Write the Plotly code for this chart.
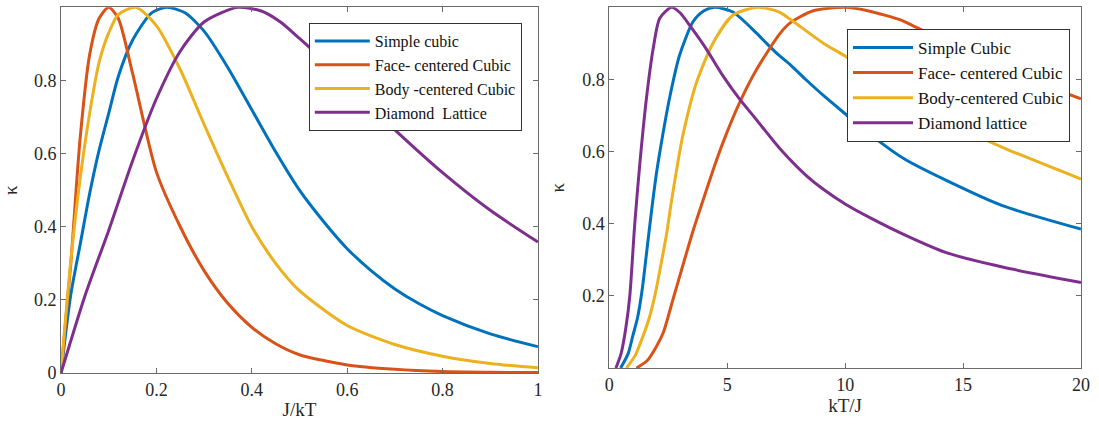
import plotly.graph_objects as go

# ---------------- Left panel data (J/kT) ----------------
sc_left_x = [0, 0.02, 0.04, 0.06, 0.08, 0.1, 0.12, 0.15, 0.19, 0.222, 0.26, 0.3, 0.35, 0.4, 0.45, 0.5, 0.55, 0.6, 0.65, 0.7, 0.75, 0.8, 0.9, 1.0]
sc_left_y = [0, 0.21, 0.35, 0.49, 0.61, 0.71, 0.81, 0.91, 0.985, 1.0, 0.985, 0.935, 0.835, 0.72, 0.605, 0.50, 0.415, 0.34, 0.28, 0.23, 0.19, 0.157, 0.107, 0.072]

fcc_left_x = [0, 0.02, 0.04, 0.06, 0.08, 0.1, 0.12, 0.15, 0.2, 0.25, 0.3, 0.35, 0.4, 0.45, 0.5, 0.6, 0.7, 0.8, 0.9, 1.0]
fcc_left_y = [0, 0.29, 0.64, 0.87, 0.97, 1.0, 0.97, 0.82, 0.55, 0.40, 0.28, 0.19, 0.125, 0.08, 0.05, 0.022, 0.01, 0.004, 0.002, 0.001]

bcc_left_x = [0, 0.02, 0.04, 0.06, 0.08, 0.1, 0.12, 0.157, 0.2, 0.25, 0.3, 0.35, 0.4, 0.45, 0.5, 0.6, 0.7, 0.8, 0.9, 1.0]
bcc_left_y = [0, 0.3, 0.53, 0.71, 0.85, 0.93, 0.98, 1.0, 0.95, 0.83, 0.68, 0.535, 0.40, 0.30, 0.225, 0.13, 0.078, 0.046, 0.026, 0.014]

dia_left_x = [0, 0.05, 0.1, 0.15, 0.2, 0.25, 0.3, 0.37, 0.42, 0.46, 0.5, 0.55, 0.6, 0.7, 0.8, 0.9, 1.0]
dia_left_y = [0, 0.21, 0.39, 0.58, 0.75, 0.88, 0.96, 1.0, 0.99, 0.96, 0.915, 0.855, 0.79, 0.665, 0.548, 0.445, 0.358]

# ---------------- Right panel data (kT/J) ----------------
sc_right_x = [0.48, 0.8, 1.0, 1.2, 1.4, 1.6, 1.8, 2.0, 2.25, 2.56, 2.98, 3.55, 4.0, 4.47, 5.24, 6.22, 6.67, 7.14, 7.69, 8.33, 9.09, 10, 11.11, 12.5, 14.29, 16.67, 20]
sc_right_y = [0, 0.04, 0.09, 0.14, 0.22, 0.33, 0.44, 0.54, 0.64, 0.75, 0.867, 0.96, 0.99, 1.0, 0.987, 0.93, 0.9, 0.87, 0.84, 0.8, 0.755, 0.705, 0.645, 0.58, 0.52, 0.45, 0.385]

fcc_right_x = [1.15, 1.6, 2.0, 2.3, 2.7, 3.1, 3.55, 4.0, 4.46, 4.82, 5.52, 6.22, 7.21, 7.63, 8.62, 10, 11.0, 12.4, 13.0, 14.29, 16.67, 20]
fcc_right_y = [0, 0.02, 0.06, 0.1, 0.19, 0.28, 0.38, 0.47, 0.56, 0.625, 0.735, 0.825, 0.925, 0.955, 0.99, 1.0, 0.99, 0.964, 0.945, 0.905, 0.83, 0.746]

bcc_right_x = [0.73, 1.1, 1.44, 1.7, 1.93, 2.2, 2.45, 2.63, 2.92, 3.12, 3.69, 4.39, 5.24, 6.3, 7.21, 7.92, 9.09, 10, 11.11, 12.5, 14.29, 16.67, 20]
bcc_right_y = [0, 0.035, 0.09, 0.14, 0.2, 0.29, 0.38, 0.46, 0.575, 0.645, 0.79, 0.90, 0.978, 1.0, 0.987, 0.955, 0.9, 0.865, 0.815, 0.76, 0.685, 0.612, 0.524]

dia_right_x = [0.28, 0.5, 0.7, 0.87, 1.08, 1.3, 1.58, 1.86, 2.14, 2.64, 3.0, 3.41, 4.11, 4.82, 5.52, 6.22, 7.21, 8.33, 9.09, 10, 11.11, 12.5, 14.29, 16.67, 20]
dia_right_y = [0, 0.04, 0.11, 0.2, 0.4, 0.57, 0.75, 0.885, 0.97, 1.0, 0.985, 0.95, 0.885, 0.81, 0.746, 0.69, 0.61, 0.535, 0.495, 0.455, 0.415, 0.37, 0.32, 0.28, 0.237]

left_names = ["Simple cubic", "Face- centered Cubic", "Body -centered Cubic", "Diamond  Lattice"]
right_names = ["Simple Cubic", "Face- centered Cubic", "Body-centered Cubic", "Diamond lattice"]
colors = ["#0072BD", "#D95319", "#EDB120", "#7E2F8E"]

left_ticks = [0, 0.2, 0.4, 0.6, 0.8, 1]
left_tick_text = ["0", "0.2", "0.4", "0.6", "0.8", "1"]
right_xticks = [0, 5, 10, 15, 20]
right_yticks = [0.2, 0.4, 0.6, 0.8, 1]
right_ytick_text = ["0.2", "0.4", "0.6", "0.8", "1"]

FONT = "Times New Roman, Liberation Serif, serif"
AX = "#6a6a6a"

fig = go.Figure()

left_series = [(sc_left_x, sc_left_y), (fcc_left_x, fcc_left_y), (bcc_left_x, bcc_left_y), (dia_left_x, dia_left_y)]
right_series = [(sc_right_x, sc_right_y), (fcc_right_x, fcc_right_y), (bcc_right_x, bcc_right_y), (dia_right_x, dia_right_y)]

for (x, y), name, c in zip(left_series, left_names, colors):
    fig.add_trace(go.Scatter(x=x, y=y, mode="lines", name=name, xaxis="x", yaxis="y",
                             line=dict(color=c, width=3, shape="spline", smoothing=0.7),
                             legend="legend"))
for (x, y), name, c in zip(right_series, right_names, colors):
    fig.add_trace(go.Scatter(x=x, y=y, mode="lines", name=name, xaxis="x2", yaxis="y2",
                             line=dict(color=c, width=3, shape="spline", smoothing=0.7),
                             legend="legend2"))

axis_common = dict(showline=True, linecolor=AX, linewidth=1, mirror="ticks", ticks="inside",
                   ticklen=5, tickcolor=AX, showgrid=False, zeroline=False,
                   tickfont=dict(family=FONT, size=18, color="#262626"), automargin=False)

title_font = dict(family=FONT, size=19, color="#262626")

fig.update_layout(
    width=1099, height=432,
    margin=dict(l=0, r=0, t=0, b=0),
    paper_bgcolor="white", plot_bgcolor="white",
    font=dict(family=FONT, color="#262626"),
    showlegend=True,
    xaxis=dict(domain=[0.0555, 0.4895], range=[0, 1], tickvals=left_ticks, ticktext=left_tick_text,
               title=dict(text="J/kT", font=title_font, standoff=4), anchor="y", **axis_common),
    yaxis=dict(domain=[0.1366, 0.983], range=[0, 1], tickvals=left_ticks, ticktext=left_tick_text,
               title=dict(text="κ", font=title_font, standoff=12), anchor="x", **axis_common),
    xaxis2=dict(domain=[0.5544, 0.9836], range=[0, 20], tickvals=right_xticks,
                title=dict(text="kT/J", font=title_font, standoff=4), anchor="y2", **axis_common),
    yaxis2=dict(domain=[0.1481, 0.983], range=[0, 1], tickvals=right_yticks, ticktext=right_ytick_text,
                title=dict(text="κ", font=title_font, standoff=12), anchor="x2", **axis_common),
    legend=dict(x=0.281, y=0.9468, xanchor="left", yanchor="top", bgcolor="white",
                bordercolor="#333333", borderwidth=1, font=dict(family=FONT, size=16, color="#111"),
                itemwidth=55, tracegroupgap=0),
    legend2=dict(x=0.7707, y=0.933, xanchor="left", yanchor="top", bgcolor="white",
                 bordercolor="#333333", borderwidth=1, font=dict(family=FONT, size=17, color="#111"),
                 itemwidth=60, tracegroupgap=0),
)

fig.write_html("out.html", config={"displayModeBar": False},
               post_script="document.body.style.margin='0';document.body.style.padding='0';")
